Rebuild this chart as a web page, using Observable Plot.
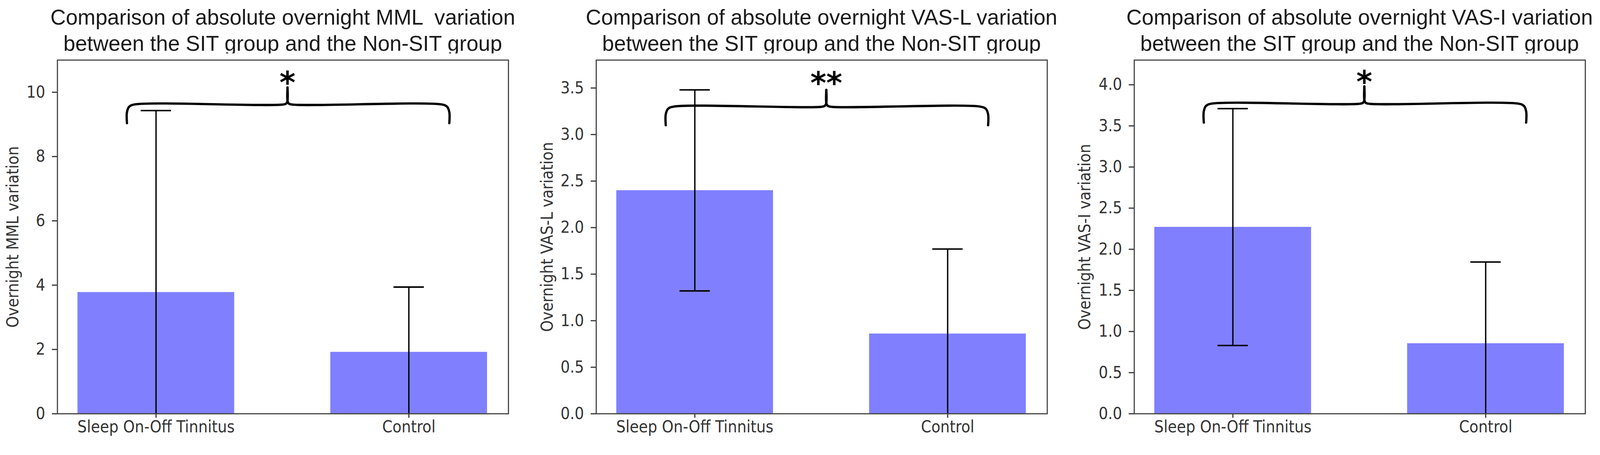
<!DOCTYPE html>
<html>
<head>
<meta charset="utf-8">
<script src="https://cdn.jsdelivr.net/npm/d3@7"></script>
<script src="https://cdn.jsdelivr.net/npm/@observablehq/plot@0.6"></script>
<style>
  html, body { margin: 0; padding: 0; background: #fff; overflow: hidden; }
  #page { position: relative; width: 4193px; height: 1165px; overflow: hidden; background: #fff; transform-origin: 0 0; }
  .panel { position: absolute; top: 0; }
  .title { position: absolute; top: 12px; text-align: center; white-space: pre;
           font-family: "Liberation Sans", Arial, sans-serif; font-size: 56px; line-height: 68px; color: #1a1a1a; }
  .chart { position: absolute; top: 140px; left: 0; line-height: 0; }
</style>
</head>
<body>
<div id="page"></div>
<script>
// ---- data ----
const categories = ["Sleep On-Off Tinnitus", "Control"];

const titles = [
  "Comparison of absolute overnight MML  variation\nbetween the SIT group and the Non-SIT group",
  "Comparison of absolute overnight VAS-L variation\nbetween the SIT group and the Non-SIT group",
  "Comparison of absolute overnight VAS-I variation\nbetween the SIT group and the Non-SIT group"
];
const yLabels = ["Overnight MML variation", "Overnight VAS-L variation", "Overnight VAS-I variation"];

const mmlMeans = [3.78, 1.92];
const mmlErrors = [5.65, 2.02];
const vaslMeans = [2.40, 0.86];
const vaslErrors = [1.08, 0.91];
const vasiMeans = [2.27, 0.855];
const vasiErrors = [1.44, 0.99];

const yMaxes = [11, 3.8, 4.3];
const mmlTicks = [0, 2, 4, 6, 8, 10];
const vaslTicks = [0, 0.5, 1.0, 1.5, 2.0, 2.5, 3.0, 3.5];
const vasiTicks = [0, 0.5, 1.0, 1.5, 2.0, 2.5, 3.0, 3.5, 4.0];

const sigLabels = ["*", "**", "*"];
const braceLevels = [9.62, 3.30, 3.77];
const braceEnds = [9.04, 3.10, 3.54];
const braceTips = [10.15, 3.48, 3.98];
const starLevels = [10.5, 3.62, 4.11];
const braceSpan = [-0.115, 1.16];
const braceMid = 0.52;

// ---- layout ----
const PAGE_W = 4193, PAGE_H = 1165;
const ML = 140, MR = 12, MT = 17, MB = 81, FW = 1182, SVGH = 1025;
const frameLefts = [150, 1562, 2972];
const labelOffsets = [116, 128, 129];
const xDomain = [-0.39, 1.394];
const barHalf = 0.31, capHalf = 0.06;
const FH = SVGH - MT - MB;
const AXIS_FS = 43;

const axisFont = "'DejaVu Sans Condensed', 'DejaVu Sans', sans-serif";

function bracePoints(i) {
  const yMax = yMaxes[i];
  const px2x = (xDomain[1] - xDomain[0]) / FW, px2y = yMax / FH;
  const r = 20, s = 10;
  const x1 = braceSpan[0], x2 = braceSpan[1], xm = braceMid;
  const yH = braceLevels[i], yE = braceEnds[i], yT = braceTips[i];
  const half = (xa, dir, side) => [
    {side, x: xa, y: yE},
    {side, x: xa, y: yH - r * px2y},
    {side, x: xa + dir * 0.293 * r * px2x, y: yH - 0.293 * r * px2y},
    {side, x: xa + dir * r * px2x, y: yH},
    {side, x: xm - dir * s * px2x, y: yH},
    {side, x: xm - dir * 0.293 * s * px2x, y: yH + 0.293 * s * px2y},
    {side, x: xm, y: yH + s * px2y},
    {side, x: xm, y: yT}
  ];
  return [...half(x1, 1, "L"), ...half(x2, -1, "R")];
}

function panel(i, means, errors, ticks, fmt) {
  const data = categories.map((c, k) => ({k, c, m: means[k], e: errors[k]}));
  const plot = Plot.plot({
    width: ML + FW + MR, height: SVGH,
    marginLeft: ML, marginRight: MR, marginTop: MT, marginBottom: MB,
    style: {fontFamily: axisFont, fontSize: AXIS_FS + "px", color: "#333", background: "white", overflow: "visible", maxWidth: "none"},
    x: {domain: xDomain},
    y: {domain: [0, yMaxes[i]]},
    marks: [
      Plot.rectY(data, {x1: d => d.k - barHalf, x2: d => d.k + barHalf, y1: 0, y2: "m", fill: "#8080ff"}),
      Plot.ruleX(data, {x: "k", y1: d => d.m - d.e, y2: d => d.m + d.e, stroke: "#000", strokeWidth: 3.5, clip: true}),
      Plot.ruleY(data, {y: d => d.m + d.e, x1: d => d.k - capHalf, x2: d => d.k + capHalf, stroke: "#000", strokeWidth: 4, clip: true}),
      Plot.ruleY(data, {y: d => d.m - d.e, x1: d => d.k - capHalf, x2: d => d.k + capHalf, stroke: "#000", strokeWidth: 4, clip: true}),
      Plot.line(bracePoints(i), {x: "x", y: "y", z: "side", curve: "catmull-rom", stroke: "#000", strokeWidth: 6, strokeLinejoin: "round"}),
      Plot.text([sigLabels[i]], {x: braceMid, y: starLevels[i], text: d => d, fontSize: 80, fontWeight: "bold",
        fontFamily: "'DejaVu Sans', sans-serif", fill: "#000", dy: 19, lineAnchor: "middle"}),
      Plot.text([yLabels[i]], {frameAnchor: "left", rotate: -90, dx: -labelOffsets[i], text: d => d,
        fontSize: AXIS_FS, lineAnchor: "middle", textAnchor: "middle", fill: "#333"}),
      Plot.axisX({ticks: [0, 1], tickFormat: k => categories[k], tickSize: 11, tickPadding: 7, strokeWidth: 3, label: null, fontSize: AXIS_FS}),
      Plot.axisY({ticks, tickFormat: fmt, tickSize: 14, tickPadding: 18, strokeWidth: 3, label: null, fontSize: AXIS_FS}),
      Plot.frame({stroke: "#444", strokeWidth: 3})
    ]
  });
  const div = document.createElement("div");
  div.className = "panel";
  div.style.left = (frameLefts[i] - ML) + "px";
  div.style.width = (ML + FW + MR) + "px";
  div.style.height = PAGE_H + "px";
  const t = document.createElement("div");
  t.className = "title";
  t.style.left = (ML - 90) + "px";
  t.style.width = (FW + 180) + "px";
  t.textContent = titles[i];
  div.appendChild(t);
  const c = document.createElement("div");
  c.className = "chart";
  c.appendChild(plot);
  div.appendChild(c);
  document.getElementById("page").appendChild(div);
}

panel(0, mmlMeans, mmlErrors, mmlTicks, d3.format("d"));
panel(1, vaslMeans, vaslErrors, vaslTicks, d3.format(".1f"));
panel(2, vasiMeans, vasiErrors, vasiTicks, d3.format(".1f"));

// fit the fixed 4193x1165 layout to the actual viewport
function fit() {
  const k = Math.min(window.innerWidth / PAGE_W, window.innerHeight / PAGE_H);
  document.getElementById("page").style.transform = k < 0.999 || k > 1.001 ? `scale(${k})` : "none";
}
fit();
window.addEventListener("resize", fit);
</script>
</body>
</html>
